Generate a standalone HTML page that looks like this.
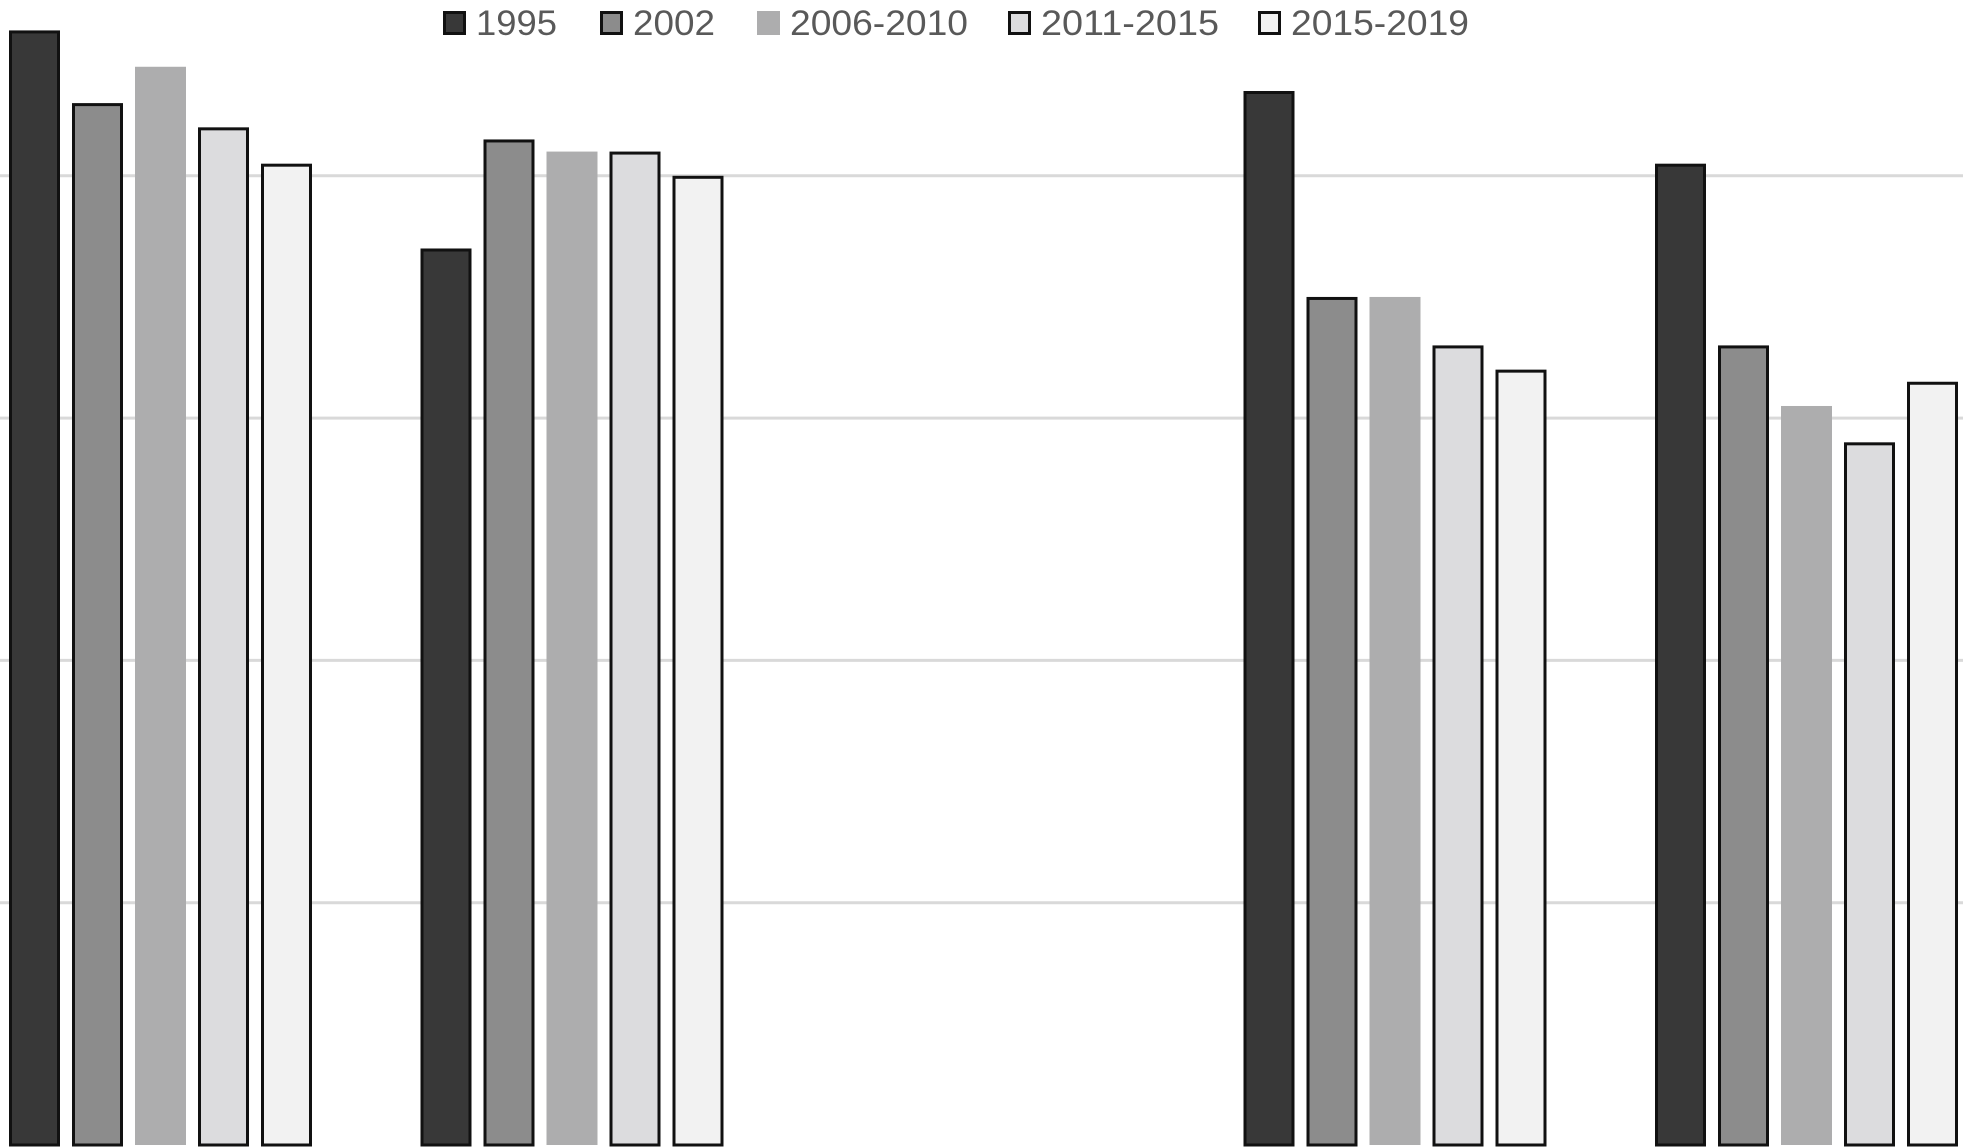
<!DOCTYPE html>
<html><head><meta charset="utf-8"><style>
html,body{margin:0;padding:0;background:#fff;}
svg{display:block;}
</style></head><body>
<svg id="chart" width="1963" height="1148" viewBox="0 0 1963 1148" xmlns="http://www.w3.org/2000/svg">
<g id="grid"></g>
<g id="bars"></g>
<g id="legend"></g>
</svg>
<script>
const categories = ["A", "B", "C", "D", "E"];
const seriesNames = ["1995", "2002", "2006-2010", "2011-2015", "2015-2019"];
const s1995 = [4.60, 3.70, 0, 4.35, 4.05];
const s2002 = [4.30, 4.15, 0, 3.50, 3.30];
const s2006 = [4.45, 4.10, 0, 3.50, 3.05];
const s2011 = [4.20, 4.10, 0, 3.30, 2.90];
const s2015 = [4.05, 4.00, 0, 3.20, 3.15];
const gridTicks = [1, 2, 3, 4];

const series = [s1995, s2002, s2006, s2011, s2015];
const fills = ["#383838", "#8c8c8c", "#adadae", "#dcdcde", "#f2f2f2"];
const strokes = ["#111", "#111", "none", "#111", "#111"];
const NS = "http://www.w3.org/2000/svg";
const baseY = 1145, unit = 242.3;
const catW = 411.5, catX0 = 9, barW = 51, barStep = 63;
function y(v){ return baseY - v * unit; }
function x(ci, si){ return catX0 + ci * catW + si * barStep; }

const grid = document.getElementById('grid');
gridTicks.forEach(t => {
  const l = document.createElementNS(NS, 'line');
  
  
  l.setAttribute('x1', 0); l.setAttribute('x2', 1963);
  l.setAttribute('y1', y(t)); l.setAttribute('y2', y(t));
  l.setAttribute('stroke', '#d9d9d9'); l.setAttribute('stroke-width', 3);
  grid.appendChild(l);
});

const bars = document.getElementById('bars');
categories.forEach((c, ci) => {
  series.forEach((s, si) => {
    const v = s[ci];
    if (!v) return;
    const r = document.createElementNS(NS, 'rect');
    
    
    const sw = strokes[si] === 'none' ? 0 : 3;
    r.setAttribute('x', x(ci, si) + sw / 2);
    r.setAttribute('y', y(v) + sw / 2);
    r.setAttribute('width', barW - sw);
    r.setAttribute('height', baseY - y(v) - sw / 2);
    r.setAttribute('fill', fills[si]);
    if (sw) { r.setAttribute('stroke', strokes[si]); r.setAttribute('stroke-width', sw); }
    bars.appendChild(r);
  });
});

const legendX = [443, 600, 757, 1008, 1258];
const legendTextW = [81, 82, 178, 178, 178];
const legend = document.getElementById('legend');
seriesNames.forEach((n, i) => {
  const g = document.createElementNS(NS, 'g');
  
  
  const r = document.createElementNS(NS, 'rect');
  
  
  const sw = strokes[i] === 'none' ? 0 : 3;
  r.setAttribute('x', legendX[i] + sw / 2); r.setAttribute('y', 11 + sw / 2);
  r.setAttribute('width', 23 - sw); r.setAttribute('height', 24 - sw);
  r.setAttribute('fill', fills[i]);
  if (sw) { r.setAttribute('stroke', '#111'); r.setAttribute('stroke-width', sw); }
  g.appendChild(r);
  const t = document.createElementNS(NS, 'text');
  
  
  t.setAttribute('x', legendX[i] + 33); t.setAttribute('y', 35);
  t.setAttribute('font-family', 'Liberation Sans, sans-serif');
  t.setAttribute('font-size', 35);
  t.setAttribute('fill', '#595959');
  t.setAttribute('textLength', legendTextW[i]);
  t.setAttribute('lengthAdjust', 'spacingAndGlyphs');
  t.textContent = n;
  g.appendChild(t);
  legend.appendChild(g);
});
</script>
</body></html>
